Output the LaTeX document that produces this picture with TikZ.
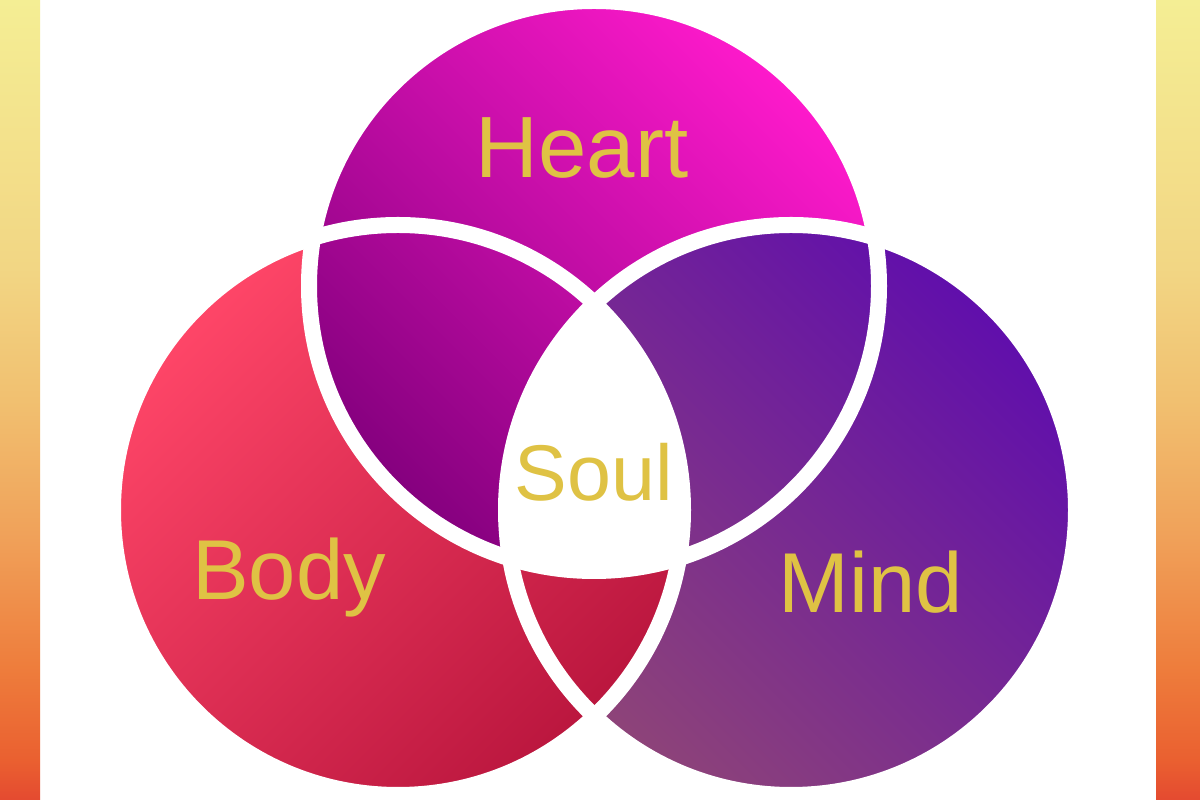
\documentclass[tikz,border=0pt]{standalone}
\usepackage{fontspec}
\setmainfont{Liberation Sans}
\usepackage{tikz}
\usetikzlibrary{positioning}

\definecolor{heartdark}{HTML}{84007E}
\definecolor{heartlight}{HTML}{FF1ACC}
\definecolor{bodylight}{HTML}{FF4668}
\definecolor{bodydark}{HTML}{BA163E}
\definecolor{mindmauve}{HTML}{8E4478}
\definecolor{mindviolet}{HTML}{600EAC}
\definecolor{labelgold}{HTML}{DFC244}
\definecolor{baryellow}{HTML}{F4EE94}
\definecolor{barsand}{HTML}{F2D684}
\definecolor{barpeach}{HTML}{F1C070}
\definecolor{barorange}{HTML}{F0A25A}
\definecolor{barcarrot}{HTML}{EE7D3C}
\definecolor{barflame}{HTML}{EA6030}
\definecolor{barred}{HTML}{E44A30}

\pgfdeclareverticalshading{sidebar}{100bp}{color(0bp)=(barred); color(25bp)=(barred); color(27.5bp)=(barflame); color(33.3bp)=(barcarrot); color(41.7bp)=(barorange); color(50bp)=(barpeach); color(58.3bp)=(barsand); color(75bp)=(baryellow); color(100bp)=(baryellow)}

\tikzstyle{heartfill} = [top color=heartlight, bottom color=heartdark, shading angle=-45]
\tikzstyle{bodyfill} = [top color=bodylight, bottom color=bodydark, shading angle=45]
\tikzstyle{mindfill} = [top color=mindviolet, bottom color=mindmauve, shading angle=-45]
\tikzstyle{rim} = [draw=white, line width=16pt]
\tikzstyle{word} = [text=labelgold, inner sep=0pt, anchor=base]

\begin{document}
\begin{tikzpicture}[x=1pt, y=1pt]

\useasboundingbox (0,0) rectangle (1200,800);
\fill[white] (0,0) rectangle (1200,800);

% Side bars
\shade[shading=sidebar] (0,0) rectangle (40,800);
\shade[shading=sidebar] (1156,0) rectangle (1200,800);

% Centres
\coordinate (heartc) at (594,514);
\coordinate (bodyc) at (398,290);
\coordinate (mindc) at (791,290);

% Discs
\shade[bodyfill] (bodyc) circle (285);
\shade[mindfill] (mindc) circle (285);
\begin{scope}
  \clip (mindc) circle (285);
  \shade[bodyfill] (bodyc) circle (285);
\end{scope}
\shade[heartfill] (heartc) circle (285);
\begin{scope}
  \clip (heartc) circle (285);
  \shade[mindfill] (mindc) circle (285);
\end{scope}
\begin{scope}
  \clip (heartc) circle (285);
  \clip (bodyc) circle (285);
  \fill[white] (mindc) circle (285);
\end{scope}

% Rims
\draw[rim] (heartc) circle (285);
\draw[rim] (bodyc) circle (285);
\draw[rim] (mindc) circle (285);

% Labels
\node (heart) [word, font=\fontsize{87}{87}\selectfont] at (582,622) {Heart};
\node (body) [word, font=\fontsize{85}{85}\selectfont] at (289,200) {Body};
\node (mind) [word, font=\fontsize{85}{85}\selectfont] at (871,187) {Mind};
\node (soul) [word, font=\fontsize{79}{79}\selectfont] at (594,299) {Soul};

\end{tikzpicture}
\end{document}
